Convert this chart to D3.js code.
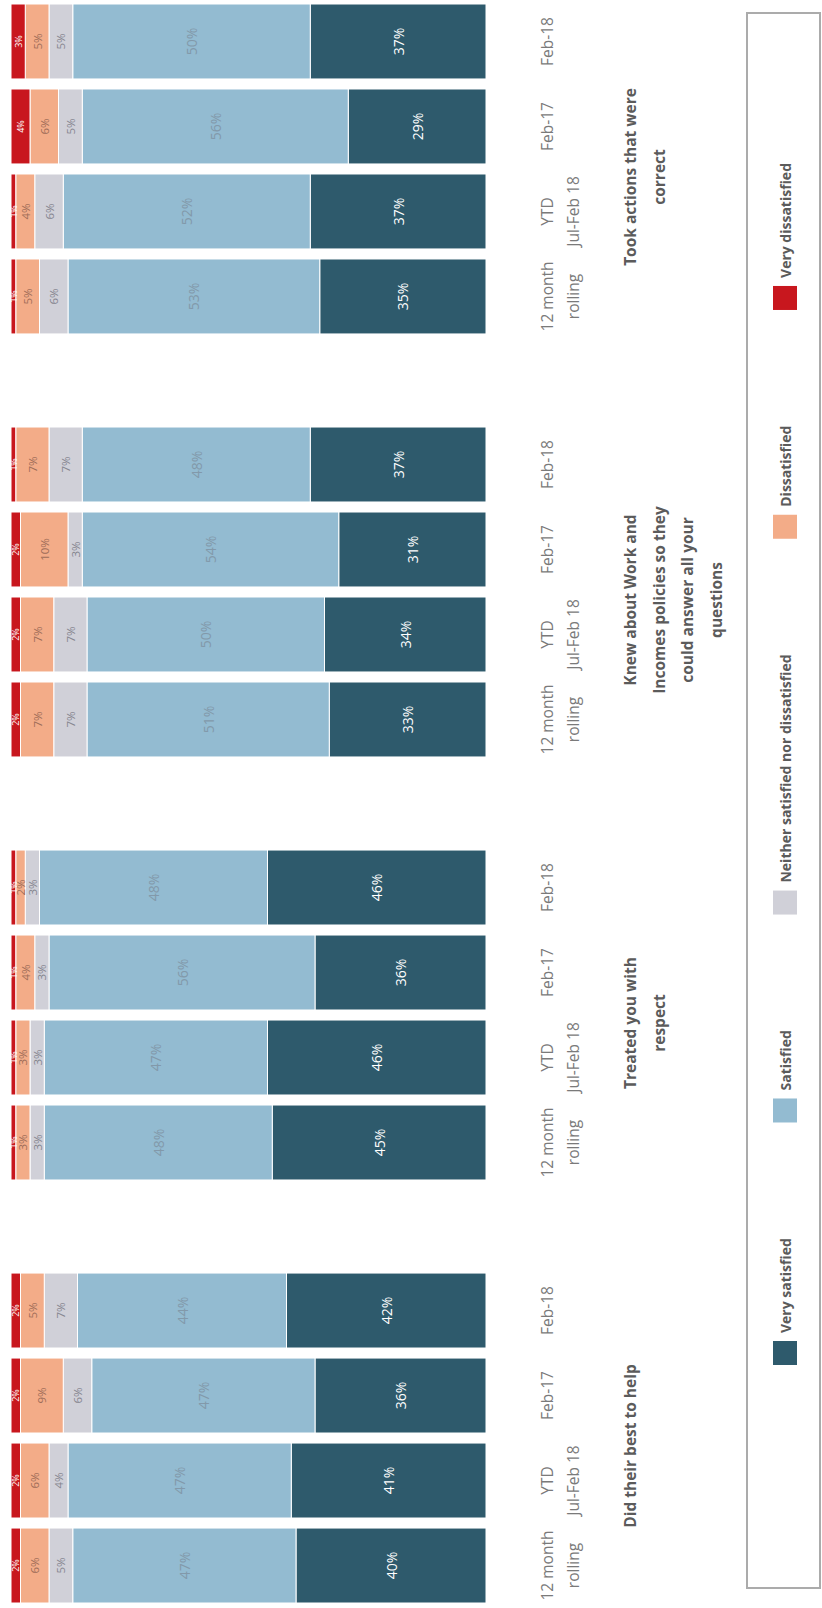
<!DOCTYPE html>
<html>
<head>
<meta charset="utf-8">
<script src="https://cdn.jsdelivr.net/npm/d3@7/dist/d3.min.js"></script>
<style>
  body { margin: 0; background: #fff; }
  svg { display: block; font-family: "Open Sans", "Noto Sans", sans-serif; }
</style>
</head>
<body>
<svg id="chart" width="822" height="1608"></svg>
<script>
// Survey question panels (left to right in the upright chart)
const panels = ["best", "respect", "policies", "correct"];
const panelTitles = [
  ["Did their best to help"],
  ["Treated you with", "respect"],
  ["Knew about Work and", "Incomes policies so they", "could answer all your", "questions"],
  ["Took actions that were", "correct"]
];

// Reporting periods within each panel
const periods = ["12 month rolling", "YTD Jul-Feb18", "Feb-17", "Feb-18"];
const periodLines = [["12 month", "rolling"], ["YTD", "Jul-Feb 18"], ["Feb-17"], ["Feb-18"]];

// Response categories, stacked from the base upwards
const seriesNames = ["Very satisfied", "Satisfied", "Neither satisfied nor dissatisfied", "Dissatisfied", "Very dissatisfied"];
const seriesColors = ["#2e5a6c", "#93bbd1", "#d0d0d8", "#f3ac88", "#c8171e"];
const labelColors = ["#ffffff", "#8299aa", "#85858f", "#9e6c58", "#ffffff"];

// Percentages, panel by panel, periods in order
const verySatisfied    = [40, 41, 36, 42,  45, 46, 36, 46,  33, 34, 31, 37,  35, 37, 29, 37];
const satisfied        = [47, 47, 47, 44,  48, 47, 56, 48,  51, 50, 54, 48,  53, 52, 56, 50];
const neither          = [ 5,  4,  6,  7,   3,  3,  3,  3,   7,  7,  3,  7,   6,  6,  5,  5];
const dissatisfied     = [ 6,  6,  9,  5,   3,  3,  4,  2,   7,  7, 10,  7,   5,  4,  6,  5];
const veryDissatisfied = [ 2,  2,  2,  2,   1,  1,  1,  1,   2,  2,  2,  1,   1,  1,  4,  3];

const seriesValues = [verySatisfied, satisfied, neither, dissatisfied, veryDissatisfied];

const rows = [];
panels.forEach((p, pi) => {
  periods.forEach((c, ci) => {
    const i = pi * periods.length + ci;
    const row = { panel: p, period: c };
    seriesNames.forEach((s, si) => { row[s] = seriesValues[si][i]; });
    rows.push(row);
  });
});

// The chart is laid out upright (long side horizontal) and then turned a quarter turn.
const W = 1608;
const svg = d3.select("#chart");
const g = svg.append("g").attr("transform", `translate(0,${W}) rotate(-90)`);

const x0 = d3.scaleBand().domain(panels).range([5, 1604]).paddingInner(0.22).paddingOuter(0);
const x1 = d3.scaleBand().domain(periods).range([0, x0.bandwidth()]).paddingInner(0.118);
const y = d3.scaleLinear().domain([0, 100]).range([486, 11]);

const stacked = d3.stack().keys(seriesNames)(rows);

const layers = g.selectAll("g.layer")
  .data(stacked)
  .join("g")
  .attr("class", "layer")
  .attr("fill", (d, i) => seriesColors[i]);

layers.selectAll("rect")
  .data(d => d)
  .join("rect")
  .attr("x", d => x0(d.data.panel) + x1(d.data.period))
  .attr("width", x1.bandwidth())
  .attr("y", d => y(d[1]))
  .attr("height", d => y(d[0]) - y(d[1]))
  .attr("stroke", "#ffffff")
  .attr("stroke-width", 1);

// Value labels inside each segment
const labelSize = [14, 14, 11.5, 11.5, 9];
layers.each(function(layer, li) {
  d3.select(this).selectAll("text")
    .data(layer)
    .join("text")
    .attr("x", d => x0(d.data.panel) + x1(d.data.period) + x1.bandwidth() / 2)
    .attr("y", d => (y(d[0]) + y(d[1])) / 2)
    .attr("text-anchor", "middle")
    .attr("dominant-baseline", "central")
    .attr("font-size", labelSize[li])
    .attr("fill", labelColors[li])
    .text(d => `${d.data[layer.key]}%`);
});

// Period labels under each bar
panels.forEach(p => {
  periods.forEach((c, ci) => {
    const cx = x0(p) + x1(c) + x1.bandwidth() / 2;
    periodLines[ci].forEach((line, li) => {
      g.append("text")
        .attr("x", cx)
        .attr("y", 553 + li * 26)
        .attr("text-anchor", "middle")
        .attr("font-size", 15.5)
        .attr("fill", "#7a7a7a")
        .text(line);
    });
  });
});

// Panel titles
panels.forEach((p, pi) => {
  const cx = x0(p) + x0.bandwidth() / 2 - 8;
  panelTitles[pi].forEach((line, li) => {
    g.append("text")
      .attr("x", cx)
      .attr("y", 636 + li * 28.5)
      .attr("text-anchor", "middle")
      .attr("font-size", 15.5)
      .attr("font-weight", "bold")
      .attr("fill", "#5b5b5b")
      .text(line);
  });
});

// Legend box along the bottom edge
g.append("rect")
  .attr("x", 20).attr("y", 747)
  .attr("width", 1575).attr("height", 73)
  .attr("fill", "none")
  .attr("stroke", "#ababab")
  .attr("stroke-width", 2);

const legend = g.append("g");
const items = legend.selectAll("g.item")
  .data(seriesNames)
  .join("g")
  .attr("class", "item");

items.append("rect")
  .attr("width", 24).attr("height", 24)
  .attr("y", 773)
  .attr("fill", (d, i) => seriesColors[i]);

items.append("text")
  .attr("y", 791)
  .attr("font-size", 14)
  .attr("font-weight", "bold")
  .attr("fill", "#5b5b5b")
  .text(d => d);

// Spread legend entries evenly between the first and last positions
const legendStart = 243, legendEnd = 1445, swatchGap = 8;
const widths = [];
items.select("text").each(function() { widths.push(this.getComputedTextLength()); });
const content = d3.sum(widths) + seriesNames.length * (24 + swatchGap);
const gap = (legendEnd - legendStart - content) / (seriesNames.length - 1);
let pos = legendStart;
items.each(function(d, i) {
  const item = d3.select(this);
  item.select("rect").attr("x", pos);
  item.select("text").attr("x", pos + 24 + swatchGap);
  pos += 24 + swatchGap + widths[i] + gap;
});
</script>
</body>
</html>
